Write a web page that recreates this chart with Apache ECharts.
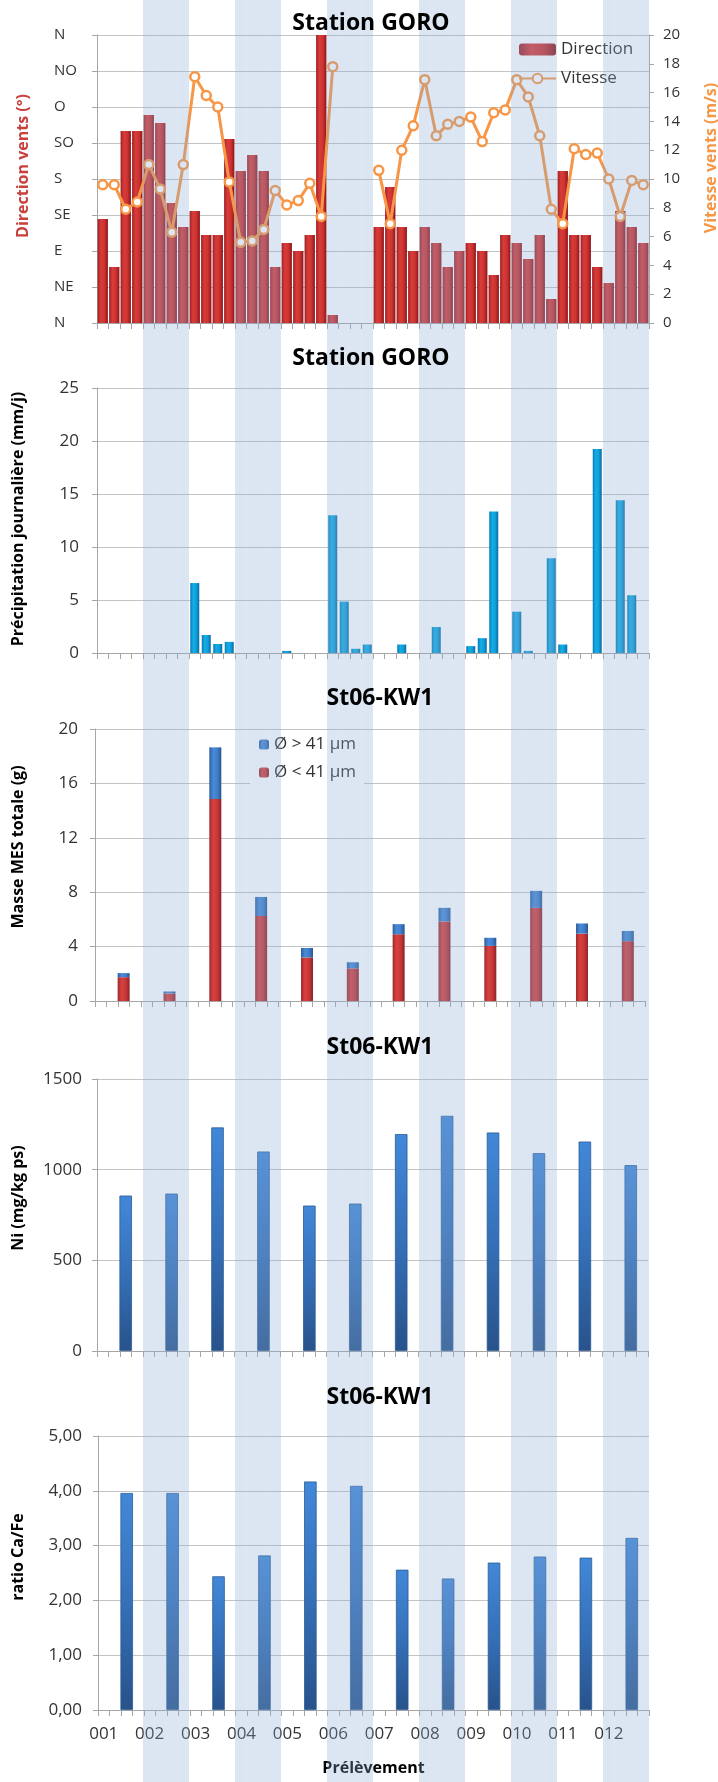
<!DOCTYPE html>
<html><head><meta charset="utf-8">
<script src="https://cdn.jsdelivr.net/npm/echarts@6/dist/echarts.min.js"></script>
<style>html,body{margin:0;padding:0;background:#fff}#c{width:718px;height:1782px}</style>
</head><body><div id="c"></div>
<script>
// ---------- data ----------
const samples = ['001','002','003','004','005','006','007','008','009','010','011','012'];
const shadedSamples = ['002','004','006','008','010','012'];
const dirLabels = ['N','NE','E','SE','S','SO','O','NO','N'];
// 4 daily values per sample (48 days)
const windDirection = [130,70,240,240,260,250,150,120,140,110,110,230,190,210,190,70,100,90,110,360,10,null,null,null,
  120,170,120,90,120,100,70,90,100,90,60,110,100,80,110,30,190,110,110,70,50,140,120,100];
const windSpeed = [9.6,9.6,7.9,8.4,11.0,9.3,6.3,11.0,17.1,15.8,15.0,9.8,5.6,5.7,6.5,9.2,8.2,8.5,9.7,7.4,17.8,null,null,null,
  10.6,6.9,12.0,13.7,16.9,13.0,13.8,14.0,14.3,12.6,14.6,14.8,16.9,15.7,13.0,7.9,6.9,12.1,11.7,11.8,10.0,7.4,9.9,9.6];
const precipitation = [0,0,0,0,0,0,0,0, 6.6,1.7,0.85,1.05,0,0,0,0, 0.2,0,0,0,13.0,4.85,0.4,0.8,
  0,0,0.8,0,0,2.45,0,0, 0.65,1.4,13.35,0,3.9,0.2,0,8.95, 0.8,0,0,19.25,0,14.4,5.45,0];
const mesFine = [1.75,0.55,14.85,6.25,3.2,2.4,4.9,5.85,4.05,6.85,4.95,4.4];
const mesCoarse = [0.3,0.15,3.8,1.4,0.7,0.45,0.75,1.0,0.6,1.25,0.75,0.75];
const nickel = [857,868,1233,1100,802,813,1196,1297,1205,1091,1155,1025];
const caFe = [3.96,3.96,2.44,2.82,4.17,4.09,2.56,2.40,2.69,2.80,2.78,3.14];

// ---------- helpers ----------
const SLOT = 4, MID = 2;
const categories = samples.flatMap(s => [0,1,2,3].map(k => s + '_' + k));
function toSlots(values){ const out = new Array(categories.length).fill(null); values.forEach((v,i)=>{ out[i*SLOT+MID] = v; }); return out; }
const bandData = categories.map(c => shadedSamples.includes(c.split('_')[0]) ? 1 : null);

const FONT = "'Open Sans', sans-serif";
const AXIS = '#a6a6a6', GRIDC = '#c4c4c4', TXT = '#333333';
function hGrad(stops){ return new echarts.graphic.LinearGradient(0,0,1,0, stops.map((c,i)=>({offset:i/(stops.length-1), color:c}))); }
function vGrad(stops){ return new echarts.graphic.LinearGradient(0,0,0,1, stops.map((c,i)=>({offset:i/(stops.length-1), color:c}))); }

function xAx(gi, showLabel, extra){
  return Object.assign({ gridIndex: gi, type:'category', data: categories, boundaryGap: true,
    axisLine:{show:true, lineStyle:{color:AXIS}},
    axisTick:{show:true, interval:0, length:6, lineStyle:{color:AXIS}},
    axisLabel:{show:showLabel, interval:3, formatter: v => v.split('_')[0], margin:16, fontSize:17, color:TXT, fontFamily:FONT},
    splitLine:{show:false} }, extra || {});
}
function yAx(gi, min, max, interval, labelOpts, extra){
  return Object.assign({ gridIndex: gi, type:'value', min, max, interval,
    axisLine:{show:true, lineStyle:{color:AXIS}},
    axisTick:{show:true, length:5, lineStyle:{color:AXIS}},
    axisLabel:Object.assign({fontSize:17, color:TXT, fontFamily:FONT, formatter: v => String(v)}, labelOpts),
    splitLine:{show:true, lineStyle:{color:GRIDC}} }, extra || {});
}

const titles = [
  {text:'Station GORO', x:371, y:23},
  {text:'Station GORO', x:371, y:358},
  {text:'St06-KW1', x:380, y:698},
  {text:'St06-KW1', x:380, y:1047},
  {text:'St06-KW1', x:380, y:1397}
];
const axisNames = [
  {text:'Direction vents (°)', x:23, y:166, color:'#c8413c'},
  {text:'Vitesse vents (m/s)', x:711, y:158, color:'#f79646'},
  {text:'Précipitation journalière (mm/j)', x:18, y:519, color:'#000'},
  {text:'Masse MES totale (g)', x:18, y:847, color:'#000'},
  {text:'Ni (mg/kg ps)', x:18, y:1198, color:'#000'},
  {text:'ratio Ca/Fe', x:18, y:1557, color:'#000'}
];

const graphic = [];
titles.forEach(t => graphic.push({type:'text', x:t.x, y:t.y, z:20, silent:true,
  style:{text:t.text, fill:'#000', font:"bold 23px 'Open Sans', sans-serif", textAlign:'center', textVerticalAlign:'middle', align:'center', verticalAlign:'middle'}}));
axisNames.forEach(t => graphic.push({type:'text', x:t.x, y:t.y, rotation:Math.PI/2, z:20, silent:true,
  style:{text:t.text, fill:t.color, font:"bold 16px 'Open Sans', sans-serif", textAlign:'center', textVerticalAlign:'middle', align:'center', verticalAlign:'middle'}}));

const option = {
  animation:false,
  backgroundColor:'#ffffff',
  graphic: graphic,
  grid:[
    {left:97, top:35, width:552, height:288},
    {left:97, top:388, width:552, height:265},
    {left:95, top:729, width:550, height:272},
    {left:97, top:1079, width:551, height:272},
    {left:98, top:1436, width:551, height:274},
    {left:97, top:0, width:552, height:1782}
  ],
  legend:[
    {data:['Direction','Vitesse'], orient:'vertical', left:518, top:41, padding:0, itemGap:12,
     itemWidth:37, itemHeight:12, textStyle:{fontSize:17, fontFamily:FONT, color:TXT}},
    {data:['Ø > 41 µm','Ø < 41 µm'], orient:'vertical', left:250, top:731, padding:[5,8,6,9], itemGap:11,
     itemWidth:10, itemHeight:10, backgroundColor:'#ffffff', textStyle:{fontSize:17, fontFamily:FONT, color:TXT}}
  ],
  xAxis:[
    xAx(0,false), xAx(1,false), xAx(2,false), xAx(3,false),
    xAx(4,true,{name:'Prélèvement', nameLocation:'middle', nameGap:50,
      nameTextStyle:{fontFamily:FONT, fontWeight:'bold', fontSize:16, color:'#000'}}),
    {gridIndex:5, type:'category', data:categories, show:false}
  ],
  yAxis:[
    yAx(0, 0, 360, 45, {fontSize:15, align:'left', margin:43, formatter: v => dirLabels[Math.round(v/45)]}),
    yAx(0, 0, 20, 2, {fontSize:15, margin:14}, {position:'right', splitLine:{show:false}}),
    yAx(1, 0, 25, 5, {margin:18}),
    yAx(2, 0, 20, 4, {margin:17}),
    yAx(3, 0, 1500, 500, {margin:15}),
    yAx(4, 0, 5, 1, {margin:16, formatter: v => v.toFixed(2).replace('.', ',')}),
    {gridIndex:5, type:'value', min:0, max:1, show:false}
  ],
  series:[
    {name:'Direction', type:'bar', xAxisIndex:0, yAxisIndex:0, data:windDirection, barCategoryGap:'10%',
     itemStyle:{color:hGrad(['#a02227','#d83c39','#cc3330','#8a171b'])}},
    {name:'Vitesse', type:'line', xAxisIndex:0, yAxisIndex:1, data:windSpeed, connectNulls:false,
     showSymbol:true, showAllSymbol:true,
     symbol:'circle', symbolSize:9, lineStyle:{color:'#f79646', width:3},
     itemStyle:{color:'#ffffff', borderColor:'#f79646', borderWidth:2.5}},
    {name:'Précipitation', type:'bar', xAxisIndex:1, yAxisIndex:2, data:precipitation, barWidth:9,
     itemStyle:{color:hGrad(['#0878b4','#14aee6','#0ea0dc','#0a6aa0'])}},
    {name:'Ø < 41 µm', type:'bar', stack:'mes', xAxisIndex:2, yAxisIndex:3, data:toSlots(mesFine), barWidth:12,
     itemStyle:{color:hGrad(['#9e2a2e','#d8413d','#c9373a','#8c2226'])}},
    {name:'Ø > 41 µm', type:'bar', stack:'mes', xAxisIndex:2, yAxisIndex:3, data:toSlots(mesCoarse), barWidth:12,
     itemStyle:{color:hGrad(['#2c5f9e','#4a8ad6','#3f7fcc','#29568f'])}},
    {name:'Ni', type:'bar', xAxisIndex:3, yAxisIndex:4, data:toSlots(nickel), barWidth:12.5,
     itemStyle:{color:vGrad(['#4288d8','#3570b8','#28528a']), borderColor:'#2a5a95', borderWidth:0.8}},
    {name:'Ca/Fe', type:'bar', xAxisIndex:4, yAxisIndex:5, data:toSlots(caFe), barWidth:12.5,
     itemStyle:{color:vGrad(['#4288d8','#3570b8','#28528a']), borderColor:'#2a5a95', borderWidth:0.8}},
    {name:'bands', type:'bar', xAxisIndex:5, yAxisIndex:6, data:bandData, barCategoryGap:'0%', z:5, silent:true,
     itemStyle:{color:'rgba(138,172,212,0.3)'}, legendHoverLink:false}
  ]
};
const chart = echarts.init(document.getElementById('c'), null, {renderer:'canvas'});
chart.setOption(option);
</script>
</body></html>
